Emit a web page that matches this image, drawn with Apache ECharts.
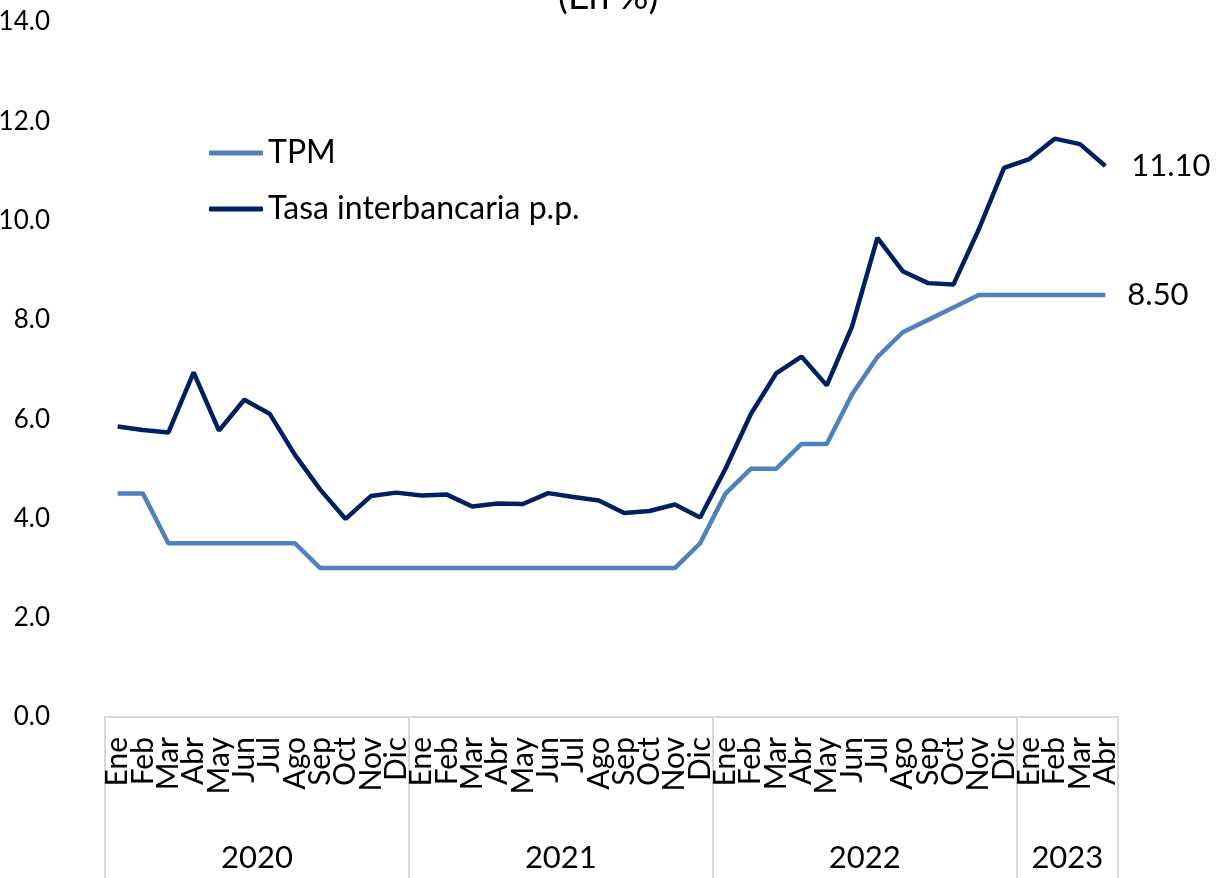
<!DOCTYPE html>
<html>
<head>
<meta charset="utf-8">
<script src="https://cdn.jsdelivr.net/npm/echarts@6/dist/echarts.min.js"></script>
<style>
html,body{margin:0;padding:0;background:#fff;}
#c{width:1216px;height:878px;}
</style>
</head>
<body>
<div id="c"></div>
<script>
const months = ['Ene','Feb','Mar','Abr','May','Jun','Jul','Ago','Sep','Oct','Nov','Dic',
  'Ene','Feb','Mar','Abr','May','Jun','Jul','Ago','Sep','Oct','Nov','Dic',
  'Ene','Feb','Mar','Abr','May','Jun','Jul','Ago','Sep','Oct','Nov','Dic',
  'Ene','Feb','Mar','Abr'];
const years = ['2020','2021','2022','2023'];
const yearCounts = [12,12,12,4];
const yTicks = [0,2,4,6,8,10,12,14];

const tpm = [4.5,4.5,3.5,3.5,3.5,3.5,3.5,3.5,3.0,3.0,3.0,3.0,
  3.0,3.0,3.0,3.0,3.0,3.0,3.0,3.0,3.0,3.0,3.0,3.5,
  4.5,5.0,5.0,5.5,5.5,6.5,7.25,7.75,8.0,8.25,8.5,8.5,
  8.5,8.5,8.5,8.5];
const interbancaria = [5.85,5.78,5.73,6.94,5.77,6.39,6.11,5.28,4.58,3.99,4.45,4.52,
  4.46,4.48,4.24,4.30,4.29,4.51,4.43,4.36,4.11,4.15,4.28,4.02,
  5.00,6.10,6.92,7.26,6.68,7.87,9.65,8.98,8.74,8.71,9.82,11.06,
  11.24,11.65,11.54,11.10];

const FONT = 'Lato';
const bounds = [0]; const mids = [];
yearCounts.forEach((n,i)=>{ mids.push(bounds[i] + n/2); bounds.push(bounds[i] + n); });

const chart = echarts.init(document.getElementById('c'));
chart.setOption({
  animation: false,
  textStyle: {fontFamily: FONT, color: '#000'},
  title: {
    text: '(En %)', left: 553, top: -26,
    textStyle: {fontFamily: FONT, fontSize: 37, fontWeight: 'normal', color: '#000'}
  },
  grid: {left: 105, right: 98, top: 22, bottom: 161, containLabel: false, outerBoundsMode: 'none'},
  legend: {
    orient: 'vertical', left: 204, top: 132, itemGap: 24, itemWidth: 54, itemHeight: 5,
    icon: 'roundRect', itemTextGap: 7,
    textStyle: {fontFamily: FONT, fontSize: 32, color: '#000'},
    data: ['TPM','Tasa interbancaria p.p.']
  },
  xAxis: [{
    type: 'category', data: months, boundaryGap: true,
    axisLine: {show: false}, axisTick: {show: false},
    axisLabel: {rotate: 90, interval: 0, margin: 20, fontSize: 30, fontFamily: FONT, color: '#000'}
  },{
    type: 'value', min: 0, max: bounds[bounds.length-1], position: 'bottom',
    axisLine: {show: true, lineStyle: {color: '#d9d9d9', width: 2}},
    axisTick: {show: true, customValues: bounds, length: 162, lineStyle: {color: '#d9d9d9', width: 2}},
    axisLabel: {customValues: mids, margin: 125, fontSize: 31, fontFamily: FONT, color: '#000',
      formatter: v => years[mids.indexOf(v)]},
    splitLine: {show: false}
  }],
  yAxis: {
    type: 'value', min: yTicks[0], max: yTicks[yTicks.length-1], interval: 2,
    axisLine: {show: false}, axisTick: {show: false}, splitLine: {show: false},
    axisLabel: {margin: 55, fontSize: 26, fontFamily: FONT, color: '#000', formatter: v => v.toFixed(1)}
  },
  series: [{
    name: 'TPM', type: 'line', data: tpm, symbol: 'none', xAxisIndex: 0,
    lineStyle: {color: '#4F81BD', width: 4.5}, itemStyle: {color: '#4F81BD'},
    endLabel: {show: true, distance: 22, fontSize: 31, fontFamily: FONT, color: '#000',
      formatter: p => Number(p.value).toFixed(2)}
  },{
    name: 'Tasa interbancaria p.p.', type: 'line', data: interbancaria, symbol: 'none', xAxisIndex: 0,
    lineStyle: {color: '#002060', width: 4.5}, itemStyle: {color: '#002060'},
    endLabel: {show: true, distance: 26, fontSize: 31, fontFamily: FONT, color: '#000',
      formatter: p => Number(p.value).toFixed(2)}
  }]
});
</script>
</body>
</html>
